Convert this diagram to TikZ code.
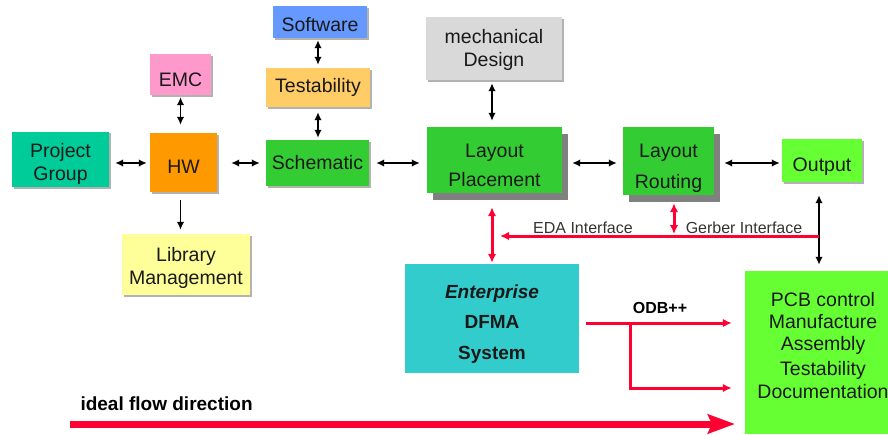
\documentclass[tikz,border=0pt]{standalone}
\usepackage{fontspec}
\setmainfont{Liberation Sans}
\usepackage{tikz}
\usetikzlibrary{arrows.meta,calc,positioning,shadows}

\definecolor{projgreen}{HTML}{00CC99}
\definecolor{hworange}{HTML}{FF9900}
\definecolor{emcpink}{HTML}{FF99CC}
\definecolor{libyellow}{HTML}{FFFF99}
\definecolor{softblue}{HTML}{6699FF}
\definecolor{testorange}{HTML}{FFCC66}
\definecolor{layoutgreen}{HTML}{33CC33}
\definecolor{mechgray}{HTML}{D9D9D9}
\definecolor{outgreen}{HTML}{66FF33}
\definecolor{dfmacyan}{HTML}{33CCCC}
\definecolor{flowred}{HTML}{FF0033}
\definecolor{shadowgray}{HTML}{808080}

\tikzset{
  box/.style={rectangle,inner sep=2pt,align=center,text=black!90,font=\fontsize{19.5}{23}\selectfont},
  lilbox/.style={box,drop shadow={shadow xshift=1.5pt,shadow yshift=-1.5pt,fill=black!30,opacity=1}},
  bigshadow/.style={drop shadow={shadow xshift=6pt,shadow yshift=-7pt,fill=shadowgray,opacity=1}},
  conn/.style={{Latex[length=8pt,width=7.5pt]}-{Latex[length=8pt,width=7.5pt]},line width=1.8pt},
  oneway/.style={-{Latex[length=8pt,width=7.5pt]},line width=1.8pt},
  redconn/.style={{Latex[length=9pt,width=8.5pt]}-{Latex[length=9pt,width=8.5pt]},flowred,line width=3pt},
  redline/.style={-{Latex[length=9pt,width=8.5pt]},flowred,line width=3pt},
  iflabel/.style={text=black!80,font=\fontsize{16}{19}\selectfont}
}

\begin{document}
\begin{tikzpicture}[x=1pt,y=-1pt]
\useasboundingbox (0,0) rectangle (888,434);

% boxes
\node[lilbox,fill=projgreen,minimum width=97pt,minimum height=53pt] (proj) at (60.5,159.5) {\rule{0pt}{24pt}Project\\Group};
\node[lilbox,fill=hworange,minimum width=67pt,minimum height=59pt,text height=22pt] (hw) at (183.5,162.5) {HW};
\node[lilbox,fill=emcpink,minimum width=61pt,minimum height=41pt,text height=24pt] (emc) at (180.5,74.5) {EMC};
\node[lilbox,fill=libyellow,minimum width=128pt,minimum height=61pt] (lib) at (186,264.5) {\rule{0pt}{21pt}Library\\Management};
\node[lilbox,fill=softblue,minimum width=94pt,minimum height=32pt,text height=20pt] (soft) at (320,22) {Software};
\node[lilbox,fill=testorange,minimum width=104pt,minimum height=39pt] (test) at (318,87.5) {Testability};
\node[lilbox,fill=layoutgreen,minimum width=103pt,minimum height=46pt] (schem) at (317.5,163) {Schematic};
\node[lilbox,fill=mechgray,minimum width=136pt,minimum height=63pt] (mech) at (494,48.5) {\rule{0pt}{17pt}mechanical\\Design};
\node[box,bigshadow,fill=layoutgreen,minimum width=135pt,minimum height=66pt] (place) at (494.5,160) {\rule{0pt}{25pt}Layout\\[6pt]Placement};
\node[box,bigshadow,fill=layoutgreen,minimum width=91pt,minimum height=68pt] (rout) at (668.5,161) {\rule{0pt}{29pt}Layout\\[8pt]Routing};
\node[lilbox,fill=outgreen,minimum width=80pt,minimum height=43pt,text height=27pt] (out) at (822,160.5) {Output};
\node[box,fill=dfmacyan,minimum width=174pt,minimum height=109pt,font=\fontsize{19}{30.5}\selectfont\bfseries] (dfma) at (492,318.5) {\rule{0pt}{24pt}\textit{Enterprise}\\DFMA\\System};
\node[box,fill=outgreen,minimum width=143pt,minimum height=163pt] (pcb) at (816.5,352.5) {};
\node[box] (pcbtxt) at (823,346) {PCB control\\[-1pt]Manufacture\\[-1pt]Assembly\\[2pt]Testability\\Documentation};

% black links
\draw[conn,shorten <=6pt,shorten >=3pt] (proj.east |- schem) -- (hw.west |- schem);
\draw[conn,shorten <=14pt,shorten >=6pt] (hw.east |- schem) -- (schem.west);
\draw[conn,shorten <=2pt,shorten >=8pt] (emc.south) -- (emc.south |- hw.north);
\draw[oneway,shorten <=8pt,shorten >=4pt] (hw.south -| emc) -- (lib.north -| emc);
\draw[conn,shorten <=2pt,shorten >=3pt] (test.north |- soft.south) -- (test.north);
\draw[conn,shorten <=5pt,shorten >=2pt] (test.south) -- (test.south |- schem.north);
\draw[conn,shorten <=7pt,shorten >=7pt] (schem.east) -- (schem.east -| place.west);
\draw[conn,shorten <=3pt,shorten >=6pt] ([xshift=-2pt]mech.south) -- ([xshift=-2pt]mech.south |- place.north);
\draw[conn,shorten <=10pt,shorten >=6pt] (place.east |- schem) -- (rout.west |- schem);
\draw[conn,shorten <=10pt,shorten >=2pt] (rout.east |- schem) -- (out.west |- schem);
\coordinate (gj) at (819,236);
\draw[conn,shorten <=13pt,shorten >=6pt] (out.south -| gj) -- (pcb.north -| gj);

% red interfaces
\coordinate (edatip) at (500,236);
\draw[redline] (gj) -- (edatip);
\draw[redconn,shorten <=14pt,shorten >=1pt] (place.south -| dfma) -- (dfma.north);
\draw[redconn,shorten <=8pt,shorten >=2pt] ([xshift=5.5pt]rout.south) -- ([xshift=5.5pt]rout.south |- gj);
\node[iflabel] (eda) at (583,228) {EDA Interface};
\node[iflabel] (gerber) at (744,228) {Gerber Interface};

% ODB++
\coordinate (odbsplit) at (630,323);
\coordinate (odbdown) at (630,388);
\draw[redline,shorten <=7pt,shorten >=13pt] (dfma.east |- odbsplit) -- (pcb.west |- odbsplit);
\draw[redline,shorten >=13pt] (odbsplit) -- (odbdown) -- (pcb.west |- odbdown);
\node[font=\fontsize{16}{19}\selectfont\bfseries] (odb) at (660,308) {ODB++};

% flow
\coordinate (flowA) at (70,424);
\coordinate (flowB) at (735,424);
\draw[flowred,line width=7pt,-{Stealth[length=27pt,width=19pt,inset=4pt]}] (flowA) -- (flowB);
\node[anchor=west,font=\fontsize{19}{22}\selectfont\bfseries] (flowtxt) at (77,404) {ideal flow direction};
\end{tikzpicture}
\end{document}
